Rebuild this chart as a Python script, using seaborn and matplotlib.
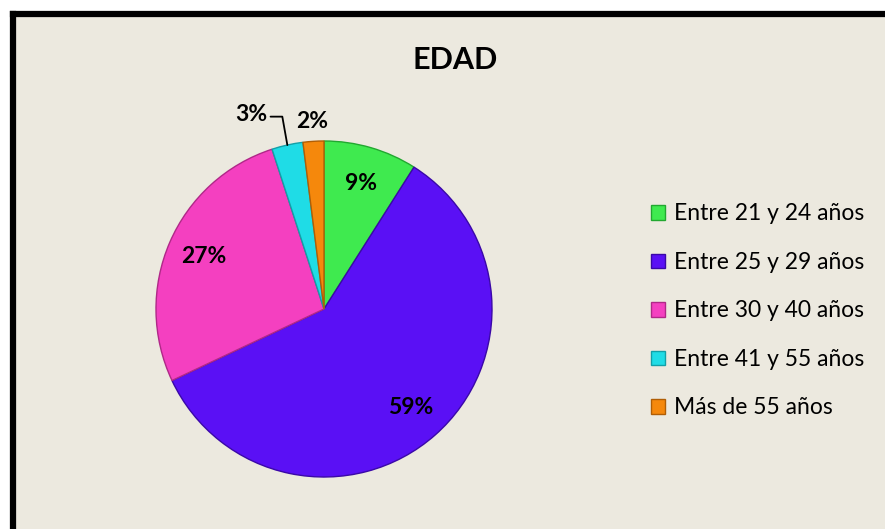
import numpy as np
import matplotlib
matplotlib.use("Agg")
import matplotlib.pyplot as plt
import seaborn as sns
from matplotlib.patches import Rectangle
from matplotlib.lines import Line2D

# --- datos ---
categorias = ["Entre 21 y 24 años", "Entre 25 y 29 años", "Entre 30 y 40 años",
              "Entre 41 y 55 años", "Más de 55 años"]
porcentajes = [9, 59, 27, 3, 2]
colores = ["#3FEA4F", "#5A10F5", "#F440C0", "#1FDCE6", "#F5880C"]
bordes = ["#22A830", "#3A08A8", "#B02888", "#12A0A8", "#B05E05"]
titulo = "EDAD"

sns.set_theme(style="white")
plt.rcParams["font.family"] = ["Lato", "DejaVu Sans"]
plt.rcParams["text.color"] = "black"

fig = plt.figure(figsize=(8.85, 5.29), dpi=100)
fig.patch.set_facecolor("white")

# fondo beige con marco negro arriba / izquierda
W, H = 885, 529
fig.add_artist(Rectangle((13 / W, 0), 1, 1 - 14 / H, transform=fig.transFigure,
                         facecolor="#ECE9DF", edgecolor="none", zorder=0))
fig.add_artist(Line2D([13 / W, 13 / W], [0, 1 - 14 / H], transform=fig.transFigure,
                      color="black", lw=4.5, solid_capstyle="projecting"))
fig.add_artist(Line2D([13 / W, 1], [1 - 14 / H, 1 - 14 / H], transform=fig.transFigure,
                      color="black", lw=4.5, solid_capstyle="projecting"))

# ejes del pastel: centro (324, 309) px, radio 168 px
R = 168
lim = 1.1
size = 2 * R * lim
ax = fig.add_axes([(324 - size / 2) / W, (H - 309 - size / 2) / H, size / W, size / H])
ax.set_facecolor("none")

wedges, _ = ax.pie(porcentajes, colors=colores, startangle=90, counterclock=False,
                   wedgeprops=dict(linewidth=1.0))
for w, b in zip(wedges, bordes):
    w.set_edgecolor(b)
ax.set_xlim(-lim, lim)
ax.set_ylim(-lim, lim)
ax.set_aspect("equal")
ax.axis("off")

# etiquetas de porcentaje
for w, p in zip(wedges, porcentajes):
    ang = np.deg2rad((w.theta1 + w.theta2) / 2)
    if p >= 5:
        ax.text(0.78 * np.cos(ang), 0.78 * np.sin(ang), f"{p}%", ha="center", va="center",
                fontsize=16.5, fontweight="bold", color="black")

# etiquetas exteriores (3% con línea guía, 2% directa)
w3, w2 = wedges[3], wedges[4]
a3 = np.deg2rad((w3.theta1 + w3.theta2) / 2)
x0, y0 = np.cos(a3), np.sin(a3)
ax.plot([x0, x0 - 0.03, x0 - 0.1], [y0, 1.145, 1.145], color="black", lw=1.3,
        clip_on=False)
ax.text(x0 - 0.12, 1.155, f"{porcentajes[3]}%", ha="right", va="center", fontsize=16.5,
        fontweight="bold")
a2 = np.deg2rad((w2.theta1 + w2.theta2) / 2)
ax.text(np.cos(a2) - 0.01, 1.115, f"{porcentajes[4]}%", ha="center", va="center",
        fontsize=16.5, fontweight="bold")

fig.text(455 / W, 1 - 60 / H, titulo, ha="center", va="center", fontsize=22,
         fontweight="bold")

handles = [Rectangle((0, 0), 1, 1, facecolor=c, edgecolor=b, lw=1.0)
           for c, b in zip(colores, bordes)]
fig.legend(handles, categorias, loc="upper left", bbox_to_anchor=(640 / W, 1 - 192 / H),
           frameon=False, fontsize=16.5, handlelength=0.6, handleheight=0.6,
           handletextpad=0.4, labelspacing=1.2, borderpad=0)

fig.savefig("out.png", dpi=100)
